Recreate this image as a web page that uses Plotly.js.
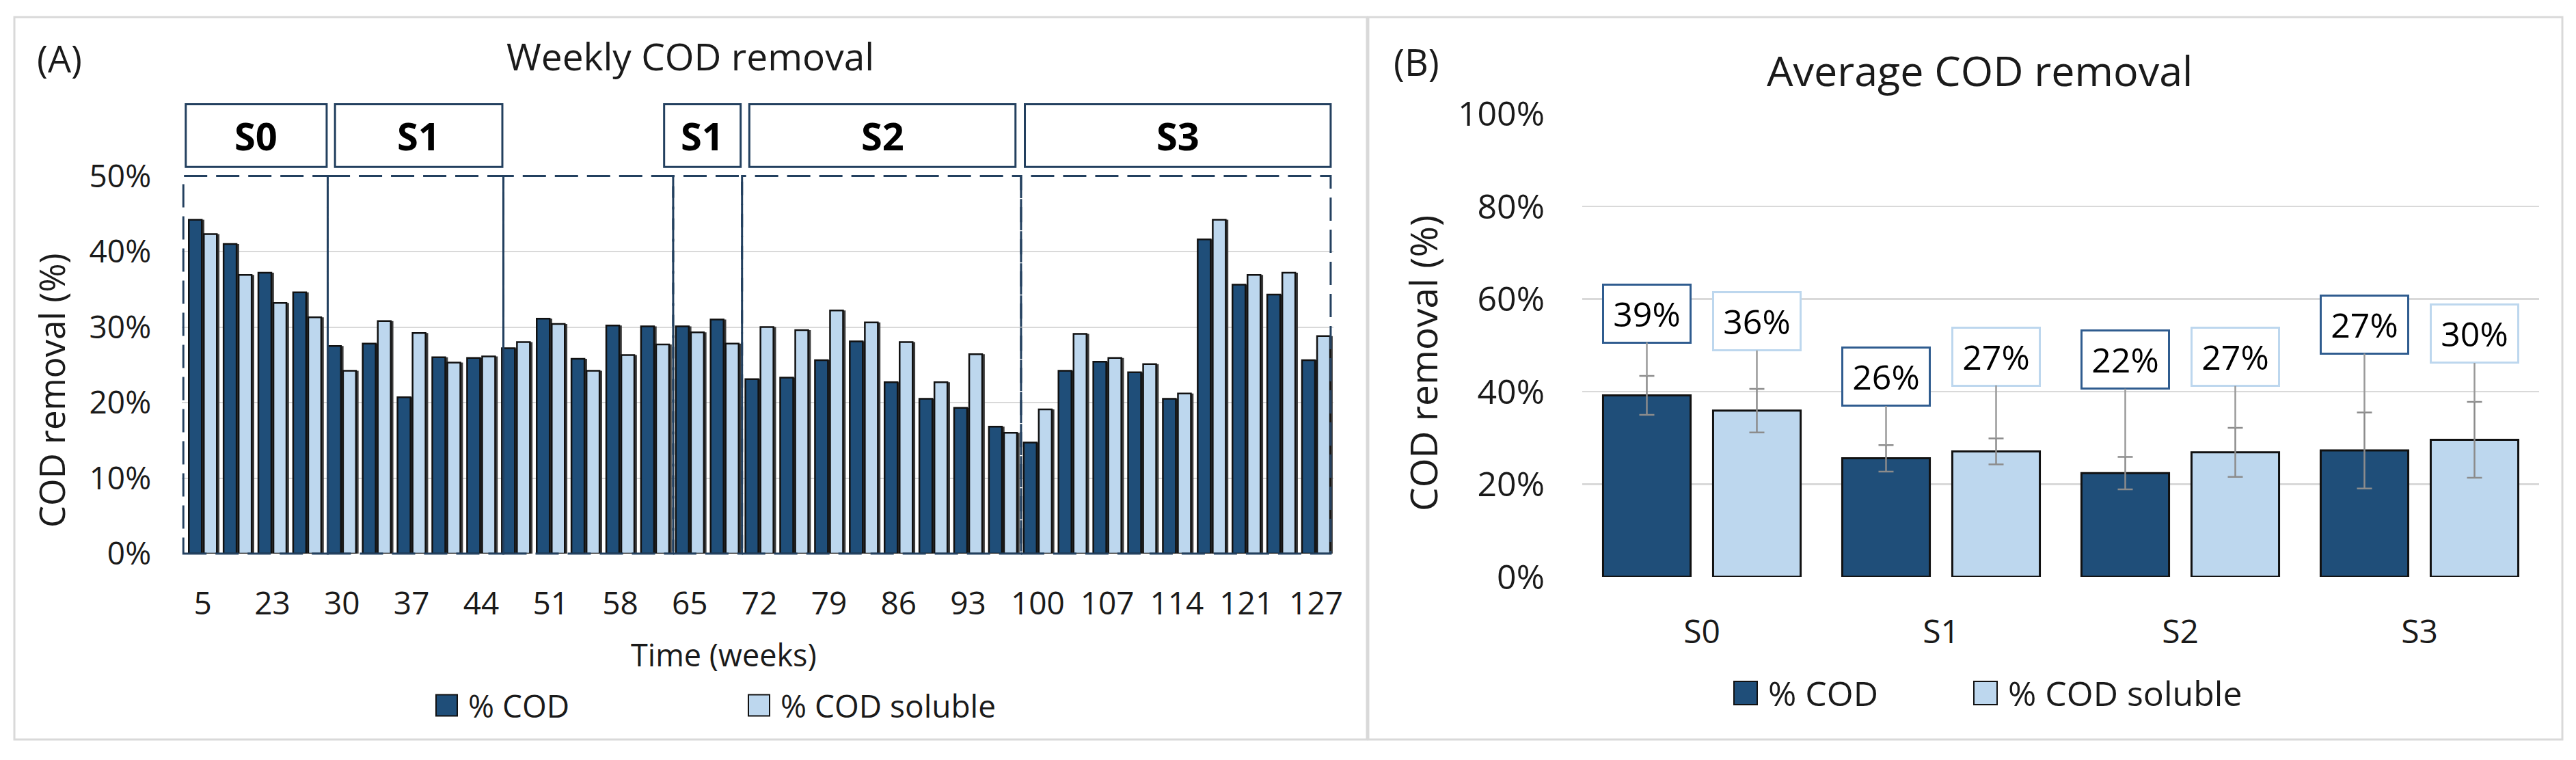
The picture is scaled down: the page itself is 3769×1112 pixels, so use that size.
<!DOCTYPE html>
<html>
<head>
<meta charset="utf-8">
<script src="https://cdn.plot.ly/plotly-3.0.1.min.js"></script>
<style>
  html, body { margin: 0; padding: 0; background: #fff; }
  #chart { width: 3769px; height: 1112px; }
</style>
</head>
<body>
<div id="chart"></div>
<script>
// weekly COD removal (%), one value per sampling week
var weekTicks = ["5", "23", "30", "37", "44", "51", "58", "65", "72", "79", "86", "93", "100", "107", "114", "121", "127"];
var weeklyCod = [44.2, 41.0, 37.2, 34.6, 27.5, 27.8, 20.7, 26.0, 25.9, 27.2, 31.1, 25.8, 30.2, 30.1, 30.1, 31.0,
  23.1, 23.3, 25.6, 28.1, 22.7, 20.5, 19.3, 16.8, 14.7, 24.2, 25.4, 24.0, 20.5, 41.6, 35.6, 34.3, 25.6];
var weeklySoluble = [42.3, 36.9, 33.2, 31.3, 24.2, 30.8, 29.2, 25.3, 26.1, 28.0, 30.4, 24.2, 26.3, 27.7, 29.3, 27.8,
  30.0, 29.6, 32.2, 30.6, 28.0, 22.7, 26.4, 16.0, 19.1, 29.1, 25.9, 25.1, 21.2, 44.2, 36.9, 37.2, 28.8];
var weeklyTicksY = [0, 10, 20, 30, 40, 50];

// average COD removal per stage
var stages = ["S0", "S1", "S2", "S3"];
var avgCod = [39.2, 25.6, 22.4, 27.3];
var avgSoluble = [35.9, 27.1, 26.9, 29.6];
var sdCod = [4.2, 2.85, 3.5, 8.2];
var sdSoluble = [4.7, 2.8, 5.3, 8.2];
var avgTicksY = [0, 20, 40, 60, 80, 100];

// ---- layout helpers ----
var W = 3769, H = 1112;
function px(x) { return x / W; }
function py(y) { return 1 - y / H; }
function pct(v) { return v + "%"; }

var DARK = "#1f4e79", LIGHT = "#bdd7ee", NAVY = "#23405f", GRID = "#d9d9d9", TXT = "#1a1a1a";
var FONT = "Open Sans, sans-serif";

// stage boxes over the weekly chart (bar index units)
var stageBoxes = [
  { name: "S0", x0: -0.49, x1: 3.56 },
  { name: "S1", x0: 3.80, x1: 8.61 },
  { name: "S1", x0: 13.26, x1: 15.46 },
  { name: "S2", x0: 15.71, x1: 23.36 },
  { name: "S3", x0: 23.63, x1: 32.42 }
];
var dashedEdges = [-0.56, 3.59, 8.64, 13.52, 15.50, 23.52, 32.42];
var solidEdges = [3.59, 8.64];
// where the value callouts sit (y, %) on the average chart
var calloutCod = [56.9, 43.2, 46.9, 54.5];
var calloutSoluble = [55.2, 47.6, 47.5, 52.5];

var weekIdx = weeklyCod.map(function (v, i) { return i; });
var stageIdx = stages.map(function (s, i) { return i; });

// bar widths / offsets (in category units)
var wL = 0.373, offL = 0.03, shadowL = 0.075;
var wR = 0.366, offR = 0.047;

var traces = [
  // little drop shadows behind the weekly bars
  {
    type: "bar", x: weekIdx, y: weeklyCod, xaxis: "x", yaxis: "y",
    width: wL, offset: -wL - offL + shadowL,
    marker: { color: "#3c3c3c", line: { width: 0 } }, showlegend: false, hoverinfo: "skip"
  },
  {
    type: "bar", x: weekIdx, y: weeklySoluble, xaxis: "x", yaxis: "y",
    width: wL, offset: offL + shadowL,
    marker: { color: "#3c3c3c", line: { width: 0 } }, showlegend: false, hoverinfo: "skip"
  },
  {
    type: "bar", x: weekIdx, y: weeklyCod, name: "% COD", xaxis: "x", yaxis: "y",
    width: wL, offset: -wL - offL,
    marker: { color: DARK, line: { color: "#111", width: 2.5 } }, showlegend: false, hoverinfo: "y"
  },
  {
    type: "bar", x: weekIdx, y: weeklySoluble, name: "% COD soluble", xaxis: "x", yaxis: "y",
    width: wL, offset: offL,
    marker: { color: LIGHT, line: { color: "#111", width: 2.5 } }, showlegend: false, hoverinfo: "y"
  },
  {
    type: "bar", x: stageIdx, y: avgCod, name: "% COD", xaxis: "x2", yaxis: "y2",
    width: wR, offset: -wR - offR,
    error_y: { type: "data", array: sdCod, visible: true, color: "#8c8c8c", thickness: 2.5, width: 11 },
    marker: { color: DARK, line: { color: "#111", width: 3 } }, showlegend: false
  },
  {
    type: "bar", x: stageIdx, y: avgSoluble, name: "% COD soluble", xaxis: "x2", yaxis: "y2",
    width: wR, offset: offR,
    error_y: { type: "data", array: sdSoluble, visible: true, color: "#8c8c8c", thickness: 2.5, width: 11 },
    marker: { color: LIGHT, line: { color: "#111", width: 3 } }, showlegend: false
  }
];

var shapes = [];
var annotations = [];

// panel frames
shapes.push({ type: "rect", xref: "paper", yref: "paper", x0: px(21), x1: px(2000), y0: py(1082), y1: py(25),
  line: { color: GRID, width: 3 }, layer: "below" });
shapes.push({ type: "rect", xref: "paper", yref: "paper", x0: px(2002), x1: px(3749), y0: py(1082), y1: py(25),
  line: { color: GRID, width: 3 }, layer: "below" });

// dashed stage regions
for (var i = 0; i < dashedEdges.length - 1; i++) {
  shapes.push({ type: "rect", xref: "x", yref: "y domain", x0: dashedEdges[i], x1: dashedEdges[i + 1], y0: 0, y1: 1,
    line: { color: NAVY, width: 3, dash: "34px,13px" }, layer: "above" });
}
solidEdges.forEach(function (e) {
  shapes.push({ type: "line", xref: "x", yref: "y domain", x0: e, x1: e, y0: 0, y1: 1,
    line: { color: NAVY, width: 3 }, layer: "above" });
});

// stage label boxes
stageBoxes.forEach(function (b) {
  shapes.push({ type: "rect", xref: "x", yref: "y domain", x0: b.x0, x1: b.x1, y0: 1.024, y1: 1.19,
    fillcolor: "#fff", line: { color: NAVY, width: 3 } });
  annotations.push({ xref: "x", yref: "y domain", x: (b.x0 + b.x1) / 2, y: 1.107, text: "<b>" + b.name + "</b>",
    showarrow: false, font: { size: 56, color: "#000", family: FONT }, xanchor: "center", yanchor: "middle" });
});

// callouts with leader lines
function callout(i, val, sd, pos, dx, border) {
  var xc = i + dx;
  annotations.push({
    xref: "x2", yref: "y2", axref: "x2", ayref: "y2",
    x: xc, y: val + sd, ax: xc, ay: pos,
    text: Math.round(val) + "%", showarrow: true, arrowhead: 0, arrowwidth: 2.5, arrowcolor: "#9a9a9a", standoff: 0,
    bgcolor: "#fff", bordercolor: border, borderwidth: 3, borderpad: 0, width: 125, height: 82,
    font: { size: 50, color: "#000", family: FONT }
  });
}
stages.forEach(function (s, i) {
  callout(i, avgCod[i], sdCod[i], calloutCod[i], -wR / 2 - offR, "#2f5c8f");
  callout(i, avgSoluble[i], sdSoluble[i], calloutSoluble[i], wR / 2 + offR, LIGHT);
});

// titles and labels
function label(text, x, y, size, opts) {
  var a = { xref: "paper", yref: "paper", x: px(x), y: py(y), text: text, showarrow: false,
    font: { size: size, color: TXT, family: FONT }, xanchor: "center", yanchor: "middle" };
  for (var k in (opts || {})) a[k] = opts[k];
  annotations.push(a);
}
label("(A)", 52, 85, 54, { xanchor: "left" });
label("Weekly COD removal", 1010, 82, 55);
label("COD removal (%)", 75, 571, 51, { textangle: -90 });
label("Time (weeks)", 1059, 957, 45);
label("(B)", 2037, 90, 54, { xanchor: "left" });
label("Average COD removal", 2896, 103, 61);
label("COD removal (%)", 2081, 532, 55, { textangle: -90 });

// legends
function legendItem(x, yc, sw, color, text, size) {
  shapes.push({ type: "rect", xref: "paper", yref: "paper", x0: px(x), x1: px(x + sw), y0: py(yc + sw / 2), y1: py(yc - sw / 2),
    fillcolor: color, line: { color: "#111", width: 2 } });
  label(text, x + sw + 14, yc, size, { xanchor: "left" });
}
legendItem(638, 1032, 31, DARK, "% COD", 46);
legendItem(1095, 1032, 31, LIGHT, "% COD soluble", 46);
legendItem(2537, 1014, 34, DARK, "% COD", 50);
legendItem(2888, 1014, 34, LIGHT, "% COD soluble", 50);

var layout = {
  width: W, height: H, autosize: false,
  margin: { l: 0, r: 0, t: 0, b: 0 },
  paper_bgcolor: "#fff", plot_bgcolor: "rgba(0,0,0,0)",
  font: { family: FONT, color: TXT },
  barmode: "overlay",
  xaxis: {
    domain: [px(266.2), px(1951)], range: [-0.6, 32.5],
    tickvals: weekTicks.map(function (t, i) { return i * 2; }), ticktext: weekTicks,
    showgrid: false, zeroline: false, showline: false, ticks: "",
    ticklabelstandoff: 42, tickfont: { size: 46, color: TXT }
  },
  yaxis: {
    domain: [py(810), py(257.5)], range: [0, 50], tickvals: weeklyTicksY, ticktext: weeklyTicksY.map(pct),
    showgrid: true, gridcolor: GRID, gridwidth: 2, zeroline: false, showline: false, ticks: "",
    ticklabelstandoff: 44, tickfont: { size: 46, color: TXT }
  },
  xaxis2: {
    domain: [px(2315), px(3715)], range: [-0.5, 3.5], anchor: "y2",
    tickvals: stageIdx, ticktext: stages,
    showgrid: false, zeroline: false, showline: false, ticks: "",
    ticklabelstandoff: 48, tickfont: { size: 48, color: TXT }
  },
  yaxis2: {
    domain: [py(844), py(166.7)], range: [0, 100], anchor: "x2", tickvals: avgTicksY, ticktext: avgTicksY.map(pct),
    showgrid: true, gridcolor: GRID, gridwidth: 2.5, zeroline: false, showline: false, ticks: "",
    ticklabelstandoff: 54, tickfont: { size: 50, color: TXT }
  },
  shapes: shapes,
  annotations: annotations
};

Plotly.newPlot("chart", traces, layout, { staticPlot: true });
</script>
</body>
</html>
